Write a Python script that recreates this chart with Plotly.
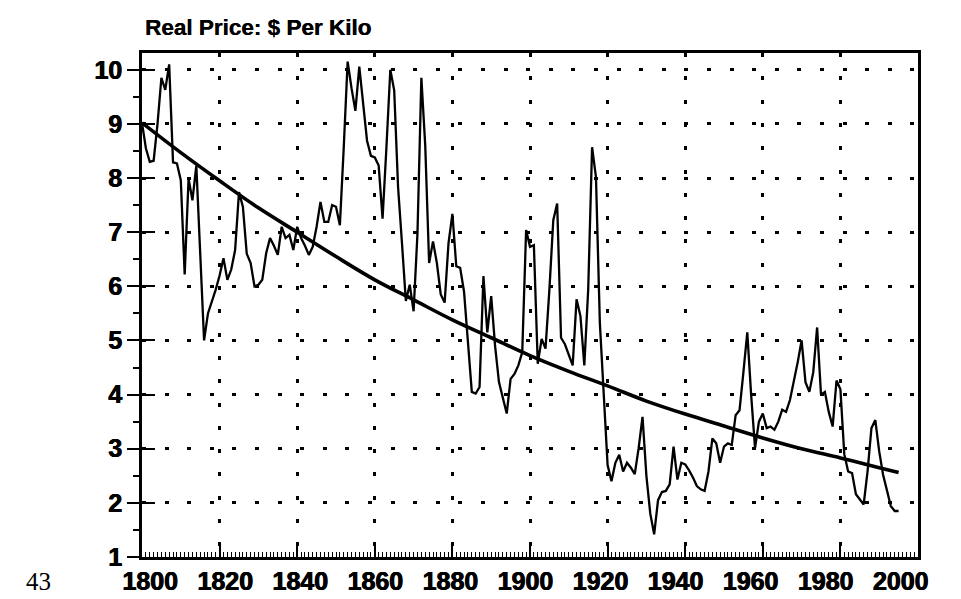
import plotly.graph_objects as go

# ---- data ----
years = list(range(1800, 1996))
price = [
    # 1800-1809
    9.02, 8.55, 8.30, 8.32, 9.00, 9.85, 9.63, 10.10, 8.29, 8.27,
    # 1810-1819
    7.96, 6.22, 7.99, 7.59, 8.23, 6.70, 5.00, 5.50, 5.70, 5.94,
    # 1820-1829
    6.20, 6.52, 6.12, 6.31, 6.67, 7.74, 7.47, 6.60, 6.43, 6.00,
    # 1830-1839
    6.03, 6.12, 6.61, 6.89, 6.75, 6.58, 7.10, 6.89, 6.95, 6.67,
    # 1840-1849
    7.10, 6.89, 6.75, 6.58, 6.73, 7.10, 7.56, 7.19, 7.19, 7.50,
    # 1850-1859
    7.47, 7.13, 8.57, 10.15, 9.66, 9.24, 10.06, 9.33, 8.69, 8.41,
    # 1860-1869
    8.38, 8.23, 7.25, 8.57, 10.00, 9.62, 7.83, 6.80, 5.73, 6.03,
    # 1870-1879
    5.54, 6.98, 9.85, 8.60, 6.43, 6.83, 6.43, 5.85, 5.70, 6.80,
    # 1880-1889
    7.34, 6.37, 6.34, 5.90, 5.00, 4.05, 4.02, 4.14, 6.19, 5.15,
    # 1890-1899
    5.82, 4.90, 4.23, 3.96, 3.65, 4.29, 4.38, 4.54, 4.78, 7.04,
    # 1900-1909
    6.73, 6.76, 4.57, 5.03, 4.85, 5.94, 7.22, 7.53, 5.05, 4.93,
    # 1910-1919
    4.72, 4.54, 5.76, 5.45, 4.54, 5.94, 8.57, 8.02, 5.33, 4.11,
    # 1920-1929
    2.70, 2.40, 2.74, 2.89, 2.58, 2.74, 2.65, 2.53, 3.01, 3.59,
    # 1930-1939
    2.50, 1.80, 1.42, 2.05, 2.20, 2.22, 2.34, 3.04, 2.43, 2.74,
    # 1940-1949
    2.71, 2.60, 2.47, 2.31, 2.25, 2.22, 2.58, 3.19, 3.10, 2.74,
    # 1950-1959
    3.04, 3.10, 3.07, 3.62, 3.71, 4.41, 5.15, 3.99, 3.01, 3.50,
    # 1960-1969
    3.65, 3.38, 3.41, 3.35, 3.50, 3.72, 3.68, 3.90, 4.23, 4.60,
    # 1970-1979
    5.00, 4.23, 4.05, 4.41, 5.24, 4.00, 4.05, 3.68, 3.41, 4.26,
    # 1980-1989
    4.10, 2.90, 2.58, 2.55, 2.16, 2.07, 1.97, 2.58, 3.38, 3.53,
    # 1990-1995
    2.95, 2.52, 2.22, 1.94, 1.85, 1.85,
]

trend_years = [1800, 1810, 1820, 1830, 1840, 1850, 1860, 1870, 1880, 1890,
               1900, 1910, 1920, 1930, 1940, 1950, 1960, 1970, 1980, 1990, 1995]
trend_vals = [9.02, 8.47, 7.95, 7.45, 7.00, 6.55, 6.12, 5.75, 5.38, 5.05,
              4.72, 4.43, 4.16, 3.88, 3.64, 3.42, 3.20, 3.00, 2.83, 2.65, 2.56]

x_ticks = [1800, 1820, 1840, 1860, 1880, 1900, 1920, 1940, 1960, 1980, 2000]
y_ticks = [1, 2, 3, 4, 5, 6, 7, 8, 9, 10]
title_text = "Real Price: $ Per Kilo"
page_number = "43"

HEAVY = "0.45px 0px 0px black, -0.45px 0px 0px black"
TICKFONT = dict(family="Liberation Sans Narrow, Liberation Sans, Arial", size=25,
                color="black", weight="bold", shadow=HEAVY)

fig = go.Figure()
fig.add_trace(go.Scatter(x=years, y=price, mode="lines",
                         line=dict(color="black", width=2.3), showlegend=False,
                         hoverinfo="skip"))
fig.add_trace(go.Scatter(x=trend_years, y=trend_vals, mode="lines", yaxis="y2",
                         line=dict(color="black", width=3.6, shape="spline"),
                         showlegend=False, hoverinfo="skip"))
# carrier for the printed year labels (the scan prints them slightly closer together)
fig.add_trace(go.Scatter(x=x_ticks, y=[None] * len(x_ticks), xaxis="x2", mode="lines",
                         showlegend=False, hoverinfo="skip"))

fig.update_layout(
    width=961, height=599,
    margin=dict(l=134, r=51, t=45, b=47),
    paper_bgcolor="white", plot_bgcolor="white",
    title=dict(text=title_text, x=137/961, xanchor="left", xref="container",
               y=1 - 19/599, yanchor="middle",
               font=dict(family="Liberation Sans, Arial", size=22.5, color="black",
                         weight="bold", shadow="0.3px 0px 0px black")),
    xaxis=dict(range=[1800, 2000], tickvals=x_ticks, showticklabels=False,
               ticks="inside", ticklen=13, tickwidth=2, tickcolor="black",
               minor=dict(dtick=1, ticks="inside", ticklen=5, tickwidth=1.3,
                          tickcolor="black", showgrid=False),
               showline=True, linecolor="black", linewidth=3, mirror=True,
               showgrid=True, gridcolor="black", gridwidth=3, griddash="4px,19.3px",
               zeroline=False),
    xaxis2=dict(range=[1797.8, 2004.6], overlaying="x", anchor="y", side="bottom",
                tickvals=x_ticks, ticktext=[str(v) for v in x_ticks], ticks="",
                showgrid=False, showline=False, zeroline=False,
                tickfont=TICKFONT, ticklabelstandoff=7),
    yaxis=dict(range=[1, 10.31], tickvals=y_ticks, ticktext=[str(v) for v in y_ticks],
               ticks="outside", ticklen=12, tickwidth=2, tickcolor="black",
               minor=dict(dtick=0.5, tick0=1, ticks="outside", ticklen=6, tickwidth=2,
                          tickcolor="black", showgrid=False),
               showline=True, linecolor="black", linewidth=2.5, mirror=True,
               showgrid=True, gridcolor="black", gridwidth=3, griddash="4px,18.6px",
               tickfont=TICKFONT, zeroline=False),
    yaxis2=dict(range=[1, 10.31], overlaying="y", side="left", tickvals=y_ticks,
                showticklabels=False, ticks="inside", ticklen=13, tickwidth=2,
                tickcolor="black", showgrid=False, showline=False, zeroline=False),
    annotations=[dict(text=page_number, xref="paper", yref="paper",
                      x=(30 - 134) / 776, y=(552 - 577) / 507, xanchor="center",
                      yanchor="middle", showarrow=False,
                      font=dict(family="Liberation Serif, Times New Roman", size=25,
                                color="black"))],
)

fig.write_html("out.html")
